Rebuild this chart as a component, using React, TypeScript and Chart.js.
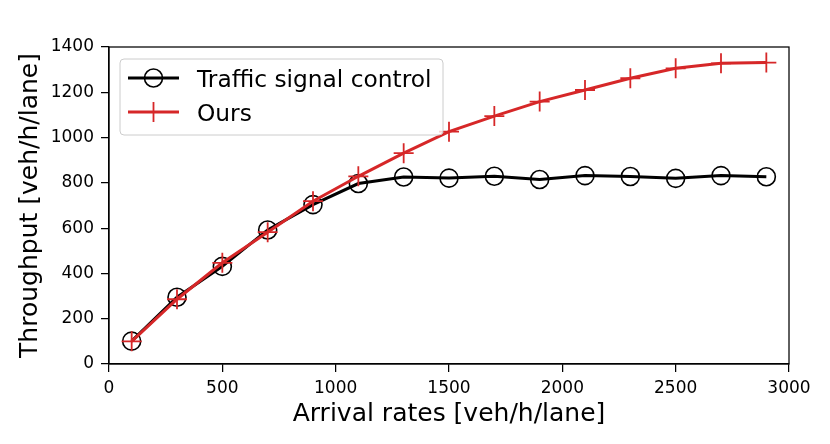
import React, { useEffect, useRef } from "react";
import { Chart, registerables } from "chart.js";

Chart.register(...registerables);

const arrivalRates = [100, 300, 500, 700, 900, 1100, 1300, 1500, 1700, 1900, 2100, 2300, 2500, 2700, 2900];
const trafficSignal = [101, 295, 431, 592, 704, 797, 826, 821, 829, 815, 832, 828, 820, 832, 827];
const ours = [100, 286, 447, 582, 719, 829, 931, 1026, 1095, 1159, 1210, 1262, 1306, 1328, 1331];
const seriesNames = ["Traffic signal control", "Ours"];
const xTitle = "Arrival rates [veh/h/lane]";
const yTitle = "Throughput [veh/h/lane]";

const RED = "#d62728";
const FONT = "'DejaVu Sans', sans-serif";

const framePlugin = {
  id: "frameAndLegend",
  afterDraw(chart: any) {
    const { ctx, chartArea } = chart;
    const { left, right, top, bottom } = chartArea;
    ctx.save();
    ctx.strokeStyle = "#000";
    ctx.lineWidth = 1.25;
    ctx.strokeRect(left, top, right - left, bottom - top);

    // legend box
    const bx = 120, by = 59, bw = 323, bh = 76, r = 4;
    ctx.beginPath();
    ctx.moveTo(bx + r, by);
    ctx.lineTo(bx + bw - r, by);
    ctx.quadraticCurveTo(bx + bw, by, bx + bw, by + r);
    ctx.lineTo(bx + bw, by + bh - r);
    ctx.quadraticCurveTo(bx + bw, by + bh, bx + bw - r, by + bh);
    ctx.lineTo(bx + r, by + bh);
    ctx.quadraticCurveTo(bx, by + bh, bx, by + bh - r);
    ctx.lineTo(bx, by + r);
    ctx.quadraticCurveTo(bx, by, bx + r, by);
    ctx.closePath();
    ctx.fillStyle = "rgba(255,255,255,0.8)";
    ctx.fill();
    ctx.strokeStyle = "#cccccc";
    ctx.lineWidth = 1;
    ctx.stroke();

    const x0 = 128, x1 = 179, xm = (x0 + x1) / 2;
    const y1 = 78;
    ctx.strokeStyle = "#000";
    ctx.lineWidth = 3;
    ctx.beginPath();
    ctx.moveTo(x0, y1);
    ctx.lineTo(x1, y1);
    ctx.stroke();
    ctx.beginPath();
    ctx.arc(xm, y1, 9, 0, Math.PI * 2);
    ctx.lineWidth = 1.6;
    ctx.stroke();
    const y2 = 112;
    ctx.strokeStyle = RED;
    ctx.lineWidth = 3;
    ctx.beginPath();
    ctx.moveTo(x0, y2);
    ctx.lineTo(x1, y2);
    ctx.stroke();
    ctx.lineWidth = 1.8;
    ctx.beginPath();
    ctx.moveTo(xm, y2 - 10);
    ctx.lineTo(xm, y2 + 10);
    ctx.moveTo(xm - 10, y2);
    ctx.lineTo(xm + 10, y2);
    ctx.stroke();

    ctx.fillStyle = "#000";
    ctx.font = `23.3px ${FONT}`;
    ctx.textAlign = "left";
    ctx.textBaseline = "alphabetic";
    ctx.fillText(seriesNames[0], 197, 87);
    ctx.fillText(seriesNames[1], 197, 121);
    ctx.restore();
  },
};

export default function App() {
  const ref = useRef<HTMLCanvasElement | null>(null);

  useEffect(() => {
    if (!ref.current) return;
    const chart = new Chart(ref.current, {
      type: "line",
      data: {
        datasets: [
          {
            label: seriesNames[0],
            data: arrivalRates.map((x, i) => ({ x, y: trafficSignal[i] })),
            borderColor: "#000",
            borderWidth: 3,
            pointStyle: "circle",
            pointRadius: 9,
            pointBorderWidth: 1.6,
            pointBorderColor: "#000",
            pointBackgroundColor: "rgba(0,0,0,0)",
            tension: 0,
            fill: false,
            order: 2,
          },
          {
            label: seriesNames[1],
            data: arrivalRates.map((x, i) => ({ x, y: ours[i] })),
            borderColor: RED,
            borderWidth: 3,
            pointStyle: "cross",
            pointRadius: 10,
            pointBorderWidth: 1.8,
            pointBorderColor: RED,
            pointBackgroundColor: RED,
            tension: 0,
            fill: false,
            order: 1,
          },
        ],
      },
      options: {
        animation: false,
        responsive: true,
        maintainAspectRatio: false,
        layout: { padding: { top: 47, right: 41, left: 0, bottom: 0 } },
        plugins: { legend: { display: false }, tooltip: { enabled: false } },
        scales: {
          x: {
            type: "linear",
            min: 0,
            max: 3000,
            ticks: {
              stepSize: 500,
              color: "#000",
              font: { family: FONT, size: 17 },
              padding: 6,
              maxRotation: 0,
              callback: (v: any) => String(v),
            },
            grid: { display: true, drawOnChartArea: false, drawTicks: true, tickLength: 8, color: "#000", lineWidth: 1.25 },
            border: { display: true, color: "#000", width: 1.25 },
            title: { display: true, text: xTitle, color: "#000", font: { family: FONT, size: 25, lineHeight: 1.2 }, padding: { top: 15, bottom: 15 } },
            afterFit: (s: any) => { s.height = 80; },
          },
          y: {
            type: "linear",
            min: 0,
            max: 1400,
            ticks: {
              stepSize: 200,
              color: "#000",
              font: { family: FONT, size: 17 },
              padding: 7,
              callback: (v: any) => String(v),
            },
            grid: { display: true, drawOnChartArea: false, drawTicks: true, tickLength: 8, color: "#000", lineWidth: 1.25 },
            border: { display: true, color: "#000", width: 1.25 },
            title: { display: true, text: yTitle, color: "#000", font: { family: FONT, size: 25, lineHeight: 1.2 }, padding: { top: 15, bottom: 15 } },
            afterFit: (s: any) => { s.width = 109; },
          },
        },
      },
      plugins: [framePlugin],
    });
    return () => chart.destroy();
  }, []);

  return (
    <div style={{ position: "absolute", left: 0, top: 0, width: 830, height: 444, background: "#fff" }}>
      <canvas ref={ref} />
    </div>
  );
}
